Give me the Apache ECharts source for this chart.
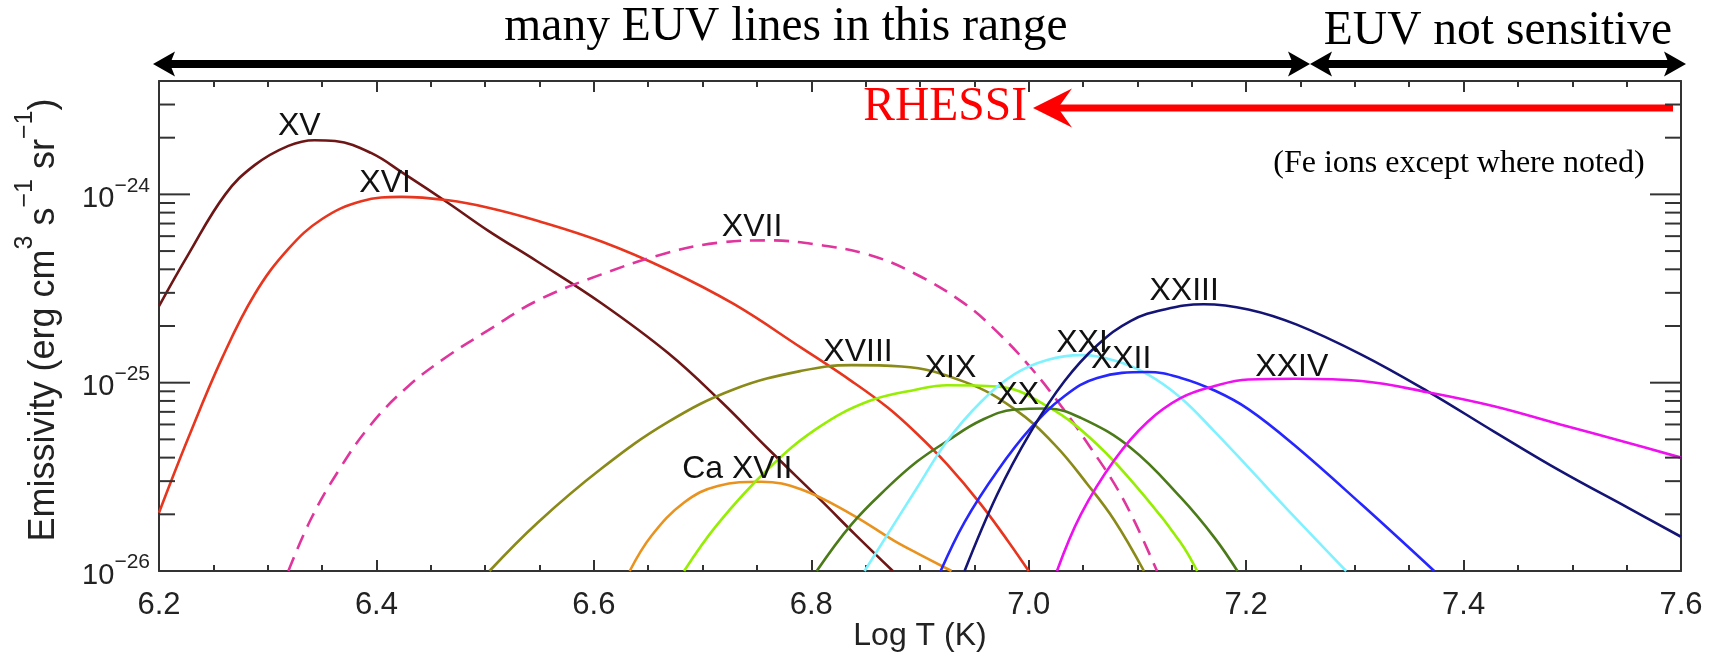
<!DOCTYPE html>
<html><head><meta charset="utf-8">
<script src="https://cdn.jsdelivr.net/npm/echarts@6/dist/echarts.min.js"></script>
<style>html,body{margin:0;padding:0;background:#fff}#c{width:1721px;height:659px}</style>
</head><body><div id="c"></div>
<script>
// ---- axis ranges / ticks ----
const xRange = [6.2, 7.6];
const xStep = 0.2;
const yRange = [1e-26, 4e-24];
const yMajorTicks = [1e-26, 1e-25, 1e-24];
const yMinorTicks = [2e-26,3e-26,4e-26,5e-26,6e-26,7e-26,8e-26,9e-26,
                     2e-25,3e-25,4e-25,5e-25,6e-25,7e-25,8e-25,9e-25,
                     2e-24,3e-24];

// ---- curves: log T and emissivity ----
const tXV  = [6.200,6.227,6.261,6.288,6.319,6.343,6.362,6.395,6.426,6.466,6.503,6.548,6.607,6.668,6.717,6.760,6.809,6.840,6.875];
const eXV  = [2.55e-25,4.8e-25,1.0e-24,1.43e-24,1.81e-24,1.94e-24,1.92e-24,1.66e-24,1.28e-24,9.0e-25,6.4e-25,4.4e-25,2.64e-25,1.44e-25,7.94e-26,4.47e-26,2.37e-26,1.57e-26,1.0e-26];
const tXVI = [6.200,6.227,6.258,6.288,6.319,6.350,6.386,6.423,6.466,6.503,6.548,6.607,6.668,6.729,6.791,6.837,6.870,6.897,6.925,6.956,6.981,7.000];
const eXVI = [2.04e-26,5.1e-26,1.35e-25,2.95e-25,5.13e-25,7.4e-25,9.2e-25,9.7e-25,9.3e-25,8.5e-25,7.25e-25,5.62e-25,3.98e-25,2.61e-25,1.53e-25,1.02e-25,7.4e-26,5.37e-26,3.68e-26,2.26e-26,1.44e-26,1.0e-26];
const tXVII = [6.319,6.340,6.365,6.395,6.429,6.466,6.503,6.548,6.607,6.668,6.714,6.760,6.806,6.852,6.895,6.941,6.971,7.002,7.033,7.057,7.079,7.097,7.118];
const eXVII = [1.0e-26,1.9e-26,3.4e-26,6.0e-26,9.55e-26,1.39e-25,1.9e-25,2.73e-25,3.76e-25,4.9e-25,5.53e-25,5.7e-25,5.4e-25,4.8e-25,3.8e-25,2.63e-25,1.86e-25,1.2e-25,7.1e-26,4.5e-26,2.89e-26,1.85e-26,1.0e-26];
const tXVIII = [6.504,6.548,6.607,6.668,6.729,6.791,6.837,6.883,6.941,6.987,7.024,7.054,7.079,7.106];
const eXVIII = [1.0e-26,1.8e-26,3.5e-26,6.17e-26,9.23e-26,1.156e-25,1.24e-25,1.22e-25,1.01e-25,7.24e-26,4.68e-26,2.89e-26,1.85e-26,1.0e-26];
const tCaXVII = [6.633,6.653,6.683,6.714,6.754,6.791,6.837,6.876,6.899,6.929];
const eCaXVII = [1.0e-26,1.54e-26,2.31e-26,2.83e-26,2.98e-26,2.71e-26,2.0e-26,1.45e-26,1.23e-26,1.0e-26];
const tXIX = [6.683,6.714,6.760,6.806,6.852,6.897,6.925,6.971,7.017,7.063,7.109,7.140,7.155];
const eXIX = [1.0e-26,1.78e-26,3.47e-26,5.75e-26,7.94e-26,9.2e-26,9.7e-26,9.55e-26,7.5e-26,4.7e-26,2.4e-26,1.41e-26,1.0e-26];
const tXX = [6.805,6.837,6.870,6.897,6.925,6.956,6.987,7.017,7.048,7.094,7.140,7.171,7.192];
const eXX = [1.0e-26,1.77e-26,2.77e-26,3.8e-26,4.9e-26,6.3e-26,7.2e-26,7.3e-26,6.5e-26,4.5e-26,2.45e-26,1.5e-26,1.0e-26];
const tXXI = [6.849,6.897,6.925,6.956,6.987,7.017,7.048,7.079,7.109,7.140,7.171,7.202,7.244,7.292];
const eXXI = [1.0e-26,2.75e-26,4.9e-26,7.9e-26,1.11e-25,1.32e-25,1.4e-25,1.31e-25,1.11e-25,8.3e-26,5.5e-26,3.55e-26,1.95e-26,1.0e-26];
const tXXII = [6.919,6.941,6.971,7.002,7.033,7.063,7.109,7.140,7.172,7.202,7.244,7.306,7.373];
const eXXII = [1.0e-26,1.82e-26,3.39e-26,5.75e-26,8.5e-26,1.06e-25,1.14e-25,1.06e-25,9.03e-26,7.24e-26,4.68e-26,2.26e-26,1.0e-26];
const tXXIII = [6.941,6.971,7.002,7.033,7.063,7.094,7.125,7.161,7.202,7.246,7.306,7.367,7.428,7.489,7.551,7.600];
const eXXIII = [1.0e-26,2.55e-26,5.5e-26,1.02e-25,1.58e-25,2.13e-25,2.45e-25,2.61e-25,2.45e-25,2.04e-25,1.41e-25,9.0e-26,5.5e-26,3.4e-26,2.17e-26,1.52e-26];
const tXXIV = [7.026,7.048,7.079,7.109,7.140,7.171,7.202,7.246,7.306,7.367,7.428,7.489,7.551,7.600];
const eXXIV = [1.0e-26,2.0e-26,3.9e-26,6.17e-26,8.3e-26,9.6e-26,1.04e-25,1.05e-25,1.02e-25,8.9e-26,7.5e-26,6.0e-26,4.8e-26,4.0e-26];

// ---- curve labels ----
const labelText = ['XV','XVI','XVII','XVIII','Ca XVII','XIX','XX','XXI','XXII','XXIII','XXIV'];
const labelT = [6.329,6.408,6.7455,6.843,6.732,6.928,6.990,7.049,7.085,7.143,7.242];
const labelV = [2.4e-24,1.19e-24,6.98e-25,1.51e-25,3.6e-26,1.24e-25,8.95e-26,1.68e-25,1.39e-25,3.16e-25,1.26e-25];

const SANS = "'Liberation Sans', Arial, Helvetica, sans-serif";
const SERIF = "'Liberation Serif', 'Times New Roman', serif";
const AX = '#333';

const curves = [
  {name:'XV', t:tXV, e:eXV, color:'#6E1616'},
  {name:'XVI', t:tXVI, e:eXVI, color:'#E8351E'},
  {name:'XVII', t:tXVII, e:eXVII, color:'#E0359C', dash:true},
  {name:'XVIII', t:tXVIII, e:eXVIII, color:'#8A8A18'},
  {name:'Ca XVII', t:tCaXVII, e:eCaXVII, color:'#EA921E'},
  {name:'XIX', t:tXIX, e:eXIX, color:'#96EE00'},
  {name:'XX', t:tXX, e:eXX, color:'#4B7A19'},
  {name:'XXI', t:tXXI, e:eXXI, color:'#80F2FF'},
  {name:'XXII', t:tXXII, e:eXXII, color:'#2626FF'},
  {name:'XXIII', t:tXXIII, e:eXXIII, color:'#141476'},
  {name:'XXIV', t:tXXIV, e:eXXIV, color:'#EE10EE'}
];

const series = curves.map(c => ({
  type:'line', name:c.name, xAxisIndex:0, yAxisIndex:0,
  data: c.t.map((x,i)=>[x, c.e[i]]),
  showSymbol:false, smooth:0.4, clip:true, silent:true,
  lineStyle:{color:c.color, width:2.6, type: c.dash ? [15,9] : 'solid'},
  z:3
}));

function tickSeries(values, len){
  return {
    type:'custom', xAxisIndex:0, yAxisIndex:0, silent:true, clip:false, z:5,
    data: values.map(v=>[xRange[0], v]),
    renderItem:(params, api)=>{
      const v = api.value(1);
      const L = api.coord([xRange[0], v]);
      const R = api.coord([xRange[1], v]);
      const st = {stroke:AX, lineWidth:2};
      return {type:'group', children:[
        {type:'line', shape:{x1:L[0], y1:L[1], x2:L[0]+len, y2:L[1]}, style:st},
        {type:'line', shape:{x1:R[0]-len, y1:R[1], x2:R[0], y2:R[1]}, style:st}
      ]};
    }
  };
}
series.push(tickSeries(yMinorTicks, 16));
series.push(tickSeries(yMajorTicks, 31));

// y tick labels 10^n, placed through the log axis
series.push({
  type:'custom', xAxisIndex:0, yAxisIndex:0, silent:true, clip:false, z:6,
  data: yMajorTicks.map(v=>[xRange[0], v]),
  renderItem:(params, api)=>{
    const v = api.value(1);
    const P = api.coord([xRange[0], v]);
    const ex = Math.round(Math.log10(v));
    return {type:'text', x:P[0]-9, y:P[1], style:{
      text:'{b|10}{s|' + (ex<0?'\u2212':'') + Math.abs(ex) + '}',
      align:'right', verticalAlign:'middle',
      rich:{b:{fontSize:29, lineHeight:38, verticalAlign:'bottom', fill:'#222', fontFamily:SANS},
            s:{fontSize:21, lineHeight:21, verticalAlign:'top', fill:'#222', fontFamily:SANS}}}};
  }
});

series.push({
  type:'scatter', xAxisIndex:0, yAxisIndex:0, silent:true, z:10,
  symbol:'circle', symbolSize:1, itemStyle:{color:'rgba(0,0,0,0)'},
  data: labelT.map((t,i)=>({value:[t, labelV[i]], name:labelText[i]})),
  label:{show:true, position:'inside', offset:[0,3], formatter:'{b}', color:'#111',
         textBorderWidth:0, opacity:1, fontSize:32, fontFamily:SANS}
});

const xAxisBase = {
  type:'value', min:xRange[0], max:xRange[1], interval:xStep, gridIndex:0,
  axisLine:{show:true, onZero:false, lineStyle:{color:AX, width:2}},
  axisTick:{show:true, inside:true, length:11, lineStyle:{color:AX, width:2}},
  minorTick:{show:true, splitNumber:4, length:6, lineStyle:{color:AX, width:2}},
  splitLine:{show:false}
};
const yAxisBase = {
  type:'log', logBase:10, min:yRange[0], max:yRange[1], gridIndex:0,
  axisLine:{show:true, onZero:false, lineStyle:{color:AX, width:2}},
  axisTick:{show:false}, minorTick:{show:false}, splitLine:{show:false},
  axisLabel:{show:false}
};

const option = {
  animation:false,
  backgroundColor:'#ffffff',
  grid:{left:159, right:40, top:81, bottom:88, containLabel:false, outerBoundsMode:'none'},
  xAxis:[
    Object.assign({}, xAxisBase, {position:'bottom',
      axisLabel:{show:true, margin:19, color:'#222', fontSize:31, fontFamily:SANS,
                 showMinLabel:true, showMaxLabel:true, formatter:v=>v.toFixed(1)}}),
    Object.assign({}, xAxisBase, {position:'top', axisLabel:{show:false}})
  ],
  yAxis:[
    Object.assign({}, yAxisBase, {position:'left'}),
    Object.assign({}, yAxisBase, {position:'right'})
  ],
  series:series
};

// ---- annotations (arrows and texts above the plot) ----
function head(tipX, y, dir, len, half, notch){
  const bx = tipX - dir*len, nx = tipX - dir*(len-notch);
  return [[tipX,y],[bx,y-half],[nx,y],[bx,y+half]];
}
function dblArrow(x1, x2, y, color){
  const len=22, half=12.5, notch=5, th=8;
  return [
    {type:'rect', shape:{x:x1+len-notch, y:y-th/2, width:(x2-x1)-2*(len-notch), height:th}, style:{fill:color}},
    {type:'polygon', shape:{points:head(x1,y,-1,len,half,notch)}, style:{fill:color}},
    {type:'polygon', shape:{points:head(x2,y,1,len,half,notch)}, style:{fill:color}}
  ];
}
const gfx = [];
gfx.push(...dblArrow(153, 1310, 64, '#000'));
gfx.push(...dblArrow(1310, 1686, 64, '#000'));
gfx.push({type:'rect', shape:{x:1058, y:104.5, width:1673-1058, height:7}, style:{fill:'#FF0000'}});
gfx.push({type:'polygon', shape:{points:head(1033,108,-1,39,19.5,14)}, style:{fill:'#FF0000'}});
gfx.push({type:'text', x:786, y:28, style:{text:'many EUV lines in this range', font:'47.5px '+SERIF, fill:'#000', align:'center', verticalAlign:'middle'}});
gfx.push({type:'text', x:1498, y:31.5, style:{text:'EUV not sensitive', font:'47.5px '+SERIF, fill:'#000', align:'center', verticalAlign:'middle'}});
gfx.push({type:'text', x:1027, y:108, style:{text:'RHESSI', font:'47.5px '+SERIF, fill:'#FF0000', align:'right', verticalAlign:'middle'}});
gfx.push({type:'text', x:1459, y:164, style:{text:'(Fe ions except where noted)', font:'32px '+SERIF, fill:'#000', align:'center', verticalAlign:'middle'}});
gfx.push({type:'text', x:920, y:636, style:{text:'Log T (K)', font:'32px '+SANS, fill:'#222', align:'center', verticalAlign:'middle'}});
gfx.push({type:'text', x:37.5, y:320, rotation:Math.PI/2,
  style:{text:'{m|Emissivity (erg cm}{s|3}{m| s}{s|\u22121}{m| sr}{s|\u22121}{m|)}', align:'center', verticalAlign:'middle',
    rich:{m:{fontSize:36, lineHeight:49, verticalAlign:'bottom', fill:'#222', fontFamily:SANS},
          s:{fontSize:25, lineHeight:25, verticalAlign:'top', fill:'#222', fontFamily:SANS}}}});
option.graphic = {elements: gfx};

const chart = echarts.init(document.getElementById('c'), null, {renderer:'canvas'});
chart.setOption(option);
</script></body></html>
